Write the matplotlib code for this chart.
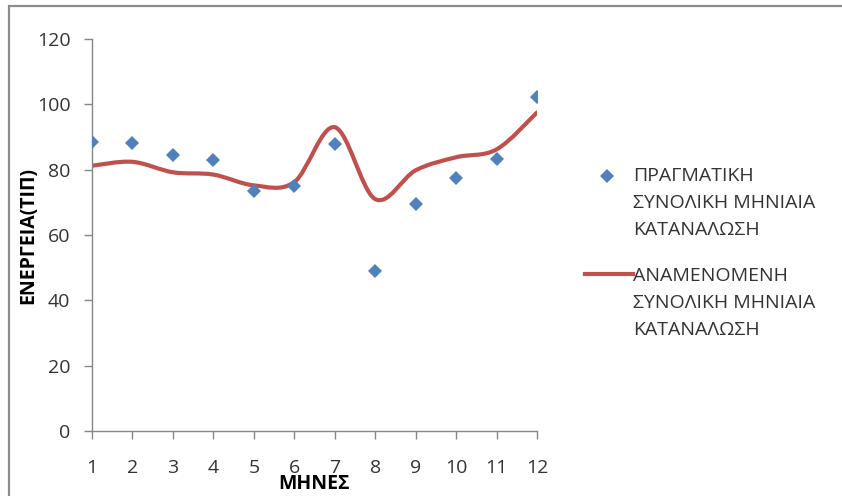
import matplotlib
matplotlib.use("Agg")
import matplotlib.pyplot as plt
import numpy as np
from matplotlib.path import Path
from matplotlib.patches import PathPatch, Rectangle
from matplotlib.lines import Line2D

plt.rcParams['font.family'] = ['Open Sans', 'DejaVu Sans']

# Monthly energy consumption (TOE)
months = [1, 2, 3, 4, 5, 6, 7, 8, 9, 10, 11, 12]
actual = [88.4, 88.3, 84.4, 83.1, 73.5, 75.0, 88.0, 49.0, 69.5, 77.4, 83.2, 102.2]
expected = [81.2, 82.4, 79.2, 78.5, 75.2, 76.2, 93.0, 71.0, 79.8, 83.8, 86.2, 97.5]

actual_label = ["ΠΡΑΓΜΑΤΙΚΗ", "ΣΥΝΟΛΙΚΗ ΜΗΝΙΑΙΑ", "ΚΑΤΑΝΑΛΩΣΗ"]
expected_label = ["ΑΝΑΜΕΝΟΜΕΝΗ", "ΣΥΝΟΛΙΚΗ ΜΗΝΙΑΙΑ", "ΚΑΤΑΝΑΛΩΣΗ"]
y_ticks = [0, 20, 40, 60, 80, 100, 120]

BLUE = "#4F81BD"
RED = "#C0504D"
AXIS = "#868686"
TEXT = "#333333"

W, H = 842, 496
fig = plt.figure(figsize=(W / 100, H / 100), dpi=100)
ax = fig.add_axes([92 / W, 1 - 431 / H, (537 - 92) / W, (431 - 39) / H])


def smooth_path(xs, ys):
    """Cubic Bezier spline through the points (spreadsheet-style smoothing)."""
    pts = np.column_stack([xs, ys]).astype(float)
    n = len(pts)
    verts = [pts[0]]
    codes = [Path.MOVETO]
    for i in range(n - 1):
        p_prev = pts[i - 1] if i > 0 else pts[i]
        p0, p1 = pts[i], pts[i + 1]
        p_next = pts[i + 2] if i + 2 < n else pts[i + 1]
        c1 = p0 + (p1 - p_prev) / 6.0
        c2 = p1 - (p_next - p0) / 6.0
        verts += [c1, c2, p1]
        codes += [Path.CURVE4] * 3
    return Path(verts, codes)


ax.add_patch(PathPatch(smooth_path(months, expected), fill=False,
                       edgecolor=RED, lw=3, capstyle='round', joinstyle='round',
                       zorder=2))
ax.plot(months, actual, linestyle='none', marker='D', markersize=7.6,
        color=BLUE, markeredgewidth=0, zorder=3)

ax.set_xlim(1, 12)
ax.set_ylim(0, 120)
ax.set_xticks(months)
ax.set_yticks(y_ticks)
for side in ('top', 'right'):
    ax.spines[side].set_visible(False)
for side in ('left', 'bottom'):
    ax.spines[side].set_color(AXIS)
    ax.spines[side].set_linewidth(1.0)
ax.tick_params(axis='both', colors=AXIS, labelcolor=TEXT, labelsize=14,
               length=5.5, width=1.0, direction='out')
ax.tick_params(axis='y', pad=10)
ax.tick_params(axis='x', pad=15)

ax.set_ylabel("ΕΝΕΡΓΕΙΑ(ΤΙΠ)", fontsize=14, fontweight='bold', color='black')
ax.yaxis.set_label_coords((38 - 92) / 445, 0.5)
ax.set_xlabel("ΜΗΝΕΣ", fontsize=14, fontweight='bold', color='black')
ax.xaxis.set_label_coords((314 - 92) / 445, (431 - 474) / 392)

# Legend, drawn at the right of the plot area
fig.add_artist(Line2D([607 / W], [1 - 176 / H], marker='D', markersize=6.8,
                      color=BLUE, markeredgewidth=0, linestyle='none',
                      transform=fig.transFigure))
fig.add_artist(Line2D([585 / W, 633 / W], [1 - 274 / H, 1 - 274 / H],
                      color=RED, lw=3, transform=fig.transFigure))
for start, lines in ((176, actual_label), (276, expected_label)):
    for k, line in enumerate(lines):
        fig.text(633 / W, 1 - (start + k * 27.2) / H, line, fontsize=14,
                 color=TEXT, ha='left', va='center')

# Chart frame
fig.add_artist(Rectangle((8.5 / W, -0.2), 1.2, 1.2 - 6 / H,
                         transform=fig.transFigure, fill=False,
                         edgecolor='#8c8c8c', lw=1.6))

fig.savefig("out.png", dpi=100)
